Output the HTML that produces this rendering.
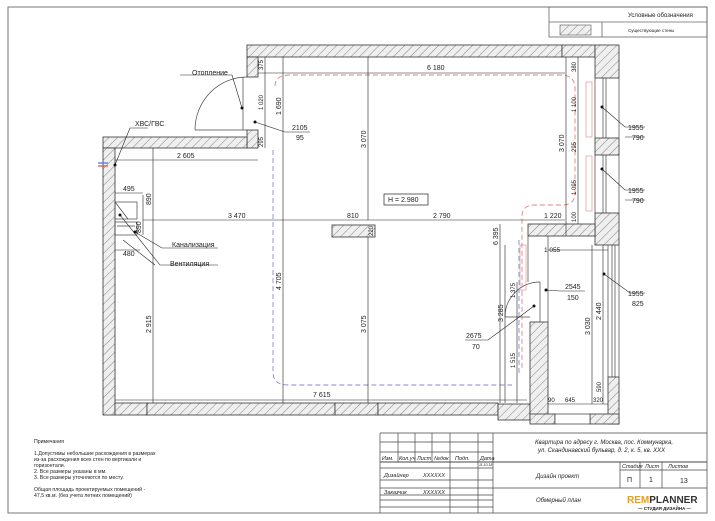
<!DOCTYPE html>
<html><head><meta charset="utf-8"><style>
html,body{margin:0;padding:0;background:#fff}
svg{display:block}
text{font-family:"Liberation Sans Narrow","Liberation Sans",sans-serif;fill:#222}
</style></head><body>
<svg width="715" height="521" viewBox="0 0 715 521" xmlns="http://www.w3.org/2000/svg">
<defs>
<pattern id="h" width="6" height="6" patternUnits="userSpaceOnUse" patternTransform="rotate(45)">
<rect width="6" height="6" fill="#efefef"/><line x1="0" y1="0" x2="0" y2="6" stroke="#777" stroke-width="0.9"/>
</pattern>
</defs>
<rect width="715" height="521" fill="#fff"/>
<rect x="8" y="7" width="699" height="506" fill="none" stroke="#777" stroke-width="1"/>
<g stroke="#666" stroke-width="0.8" fill="none">
<rect x="549" y="7" width="158" height="30"/>
<line x1="549" y1="22" x2="707" y2="22"/>
<line x1="602" y1="22" x2="602" y2="37"/>
</g>
<rect x="560" y="25" width="31" height="10" fill="url(#h)" stroke="#555" stroke-width="0.6"/>
<text x="628" y="17" font-size="6">Условные обозначения</text>
<text x="628" y="32" font-size="4.5">Существующие стены</text>

<g fill="url(#h)" stroke="#333" stroke-width="0.8">
<rect x="247" y="45" width="315" height="12"/>
<rect x="562" y="45" width="33" height="12"/>
<rect x="595" y="45" width="24" height="33"/>
<rect x="247" y="57" width="11" height="20"/>
<rect x="247" y="130" width="11" height="18"/>
<rect x="103" y="137" width="144" height="11"/>
<rect x="103" y="148" width="12" height="267"/>
<rect x="115" y="403" width="32" height="12"/>
<rect x="147" y="403" width="188" height="12"/>
<rect x="335" y="403" width="43" height="12"/>
<rect x="378" y="403" width="120" height="12"/>
<rect x="498" y="404" width="32" height="16"/>
<rect x="595" y="138" width="24" height="17"/>
<rect x="595" y="213" width="24" height="32"/>
<rect x="528" y="224" width="67" height="12"/>
<rect x="530" y="322" width="18" height="98"/>
<rect x="608" y="377" width="11" height="47"/>
<rect x="530" y="414" width="25" height="10"/>
<rect x="590" y="414" width="29" height="10"/>
<rect x="332" y="225" width="43" height="12"/>
</g>
<rect x="555" y="414" width="35" height="10" fill="#fff" stroke="#333" stroke-width="0.7"/>
<g stroke="#444" stroke-width="0.7" fill="none">
<line x1="595" y1="78" x2="595" y2="138"/><line x1="603" y1="78" x2="603" y2="138"/><line x1="606" y1="78" x2="606" y2="138"/><line x1="619" y1="78" x2="619" y2="138"/>
<line x1="595" y1="155" x2="595" y2="213"/><line x1="603" y1="155" x2="603" y2="213"/><line x1="606" y1="155" x2="606" y2="213"/><line x1="619" y1="155" x2="619" y2="213"/>
<line x1="608" y1="245" x2="608" y2="377"/><line x1="612" y1="245" x2="612" y2="377"/><line x1="615" y1="245" x2="615" y2="377"/><line x1="619" y1="245" x2="619" y2="377"/>
<line x1="548" y1="236" x2="548" y2="322"/><line x1="540" y1="282" x2="540" y2="322"/>
<line x1="528" y1="236" x2="528" y2="282"/>
<path d="M195,130 A52,53 0 0 1 247,77" />
<line x1="195" y1="130" x2="247" y2="130"/>
<line x1="243" y1="77" x2="243" y2="130"/>
<path d="M505,317 A35,35 0 0 1 540,282"/>
<line x1="505" y1="317" x2="530" y2="317"/>
<rect x="115" y="202" width="22" height="17"/>
<rect x="115" y="222" width="22" height="13"/>
<line x1="115" y1="202" x2="128" y2="219"/>
<line x1="117" y1="226" x2="135" y2="226"/>
</g>
<g fill="none" stroke-width="0.9" stroke-dasharray="5,3">
<path d="M275,86 Q275,75 290,75 L560,75 Q575,75 575,88 L575,193 Q575,205 562,205 L535,205 Q522,205 522,216 L522,370" stroke="#e08080"/>
<path d="M273,150 L273,372 Q273,385 288,385 L512,385" stroke="#8a8ad0"/>
<path d="M519,240 L519,375" stroke="#8a8ad0"/>
</g>
<g fill="none" stroke="#e08080" stroke-width="0.6">
<rect x="586" y="82" width="6" height="55"/><rect x="586" y="156" width="6" height="55"/><rect x="520" y="245" width="6" height="45"/>
</g>
<line x1="98" y1="163" x2="108" y2="163" stroke="#4a70d0" stroke-width="1.2"/>
<line x1="98" y1="166" x2="108" y2="166" stroke="#d05050" stroke-width="1.2"/>

<g stroke="#222" stroke-width="0.6" fill="none">
<line x1="258" y1="73" x2="565" y2="73"/>
<line x1="368" y1="57" x2="368" y2="220"/>
<line x1="115" y1="160" x2="258" y2="160"/>
<line x1="153" y1="148" x2="153" y2="403"/>
<line x1="115" y1="193" x2="143" y2="193"/>
<line x1="143" y1="220" x2="565" y2="220"/>
<line x1="143" y1="195" x2="143" y2="235"/>
<line x1="115" y1="250" x2="140" y2="250"/>
<line x1="283" y1="57" x2="283" y2="403"/>
<line x1="368" y1="237" x2="368" y2="403"/>
<line x1="115" y1="400" x2="527" y2="400"/>
<line x1="265" y1="57" x2="265" y2="148"/>
<line x1="566" y1="57" x2="566" y2="236"/>
<line x1="578" y1="57" x2="578" y2="224"/>
<line x1="500" y1="224" x2="500" y2="403"/>
<line x1="548" y1="250" x2="608" y2="250"/>
<line x1="592" y1="245" x2="592" y2="404"/>
<line x1="603" y1="245" x2="603" y2="404"/>
<line x1="548" y1="404" x2="608" y2="404"/>
<line x1="505" y1="245" x2="505" y2="403"/>
<line x1="517" y1="282" x2="517" y2="403"/>
<polyline points="242,108 232,75 180,75"/>
<polyline points="115,165 130,128 148,128"/>
<polyline points="255,122 285,132 310,132"/>
<polyline points="135,232 162,248 218,248"/>
<polyline points="120,215 160,265 218,265"/>
<polyline points="123,240 155,265"/>
<polyline points="602,107 625,127 645,127"/>
<polyline points="602,169 625,190 645,190"/>
<polyline points="546,290 560,291 585,291"/>
<polyline points="604,274 630,293 645,293"/>
<polyline points="534,306 488,340 465,340"/>
<line x1="625" y1="137" x2="645" y2="137" /><line x1="625" y1="200" x2="645" y2="200"/>
</g>
<g fill="#111">
<circle cx="242" cy="108" r="1.5"/><circle cx="255" cy="122" r="1.5"/><circle cx="115" cy="165" r="1.5"/>
<circle cx="135" cy="232" r="1.5"/><circle cx="120" cy="215" r="1.5"/><circle cx="602" cy="107" r="1.5"/>
<circle cx="602" cy="169" r="1.5"/><circle cx="546" cy="290" r="1.5"/><circle cx="604" cy="274" r="1.5"/><circle cx="534" cy="306" r="1.5"/>
</g>
<rect x="384" y="194" width="44" height="11" fill="#fff" stroke="#222" stroke-width="0.7"/>

<g font-size="7">
<text x="427" y="70">6 180</text>
<text x="177" y="158">2 605</text>
<text x="123" y="191">495</text>
<text x="228" y="218">3 470</text>
<text x="347" y="218">810</text>
<text x="433" y="218">2 790</text>
<text x="544" y="218">1 220</text>
<text x="123" y="256">480</text>
<text x="313" y="397">7 615</text>
<text x="544" y="252" font-size="6.5">1 055</text>
<text x="548" y="402" font-size="6">90</text>
<text x="565" y="402" font-size="6">645</text>
<text x="593" y="402" font-size="6">320</text>
<text x="388" y="202">H = 2.980</text>
<text x="192" y="75">Отопление</text>
<text x="135" y="126">ХВС/ГВС</text>
<text x="172" y="247">Канализация</text>
<text x="170" y="266">Вентиляция</text>
<text x="292" y="130">2105</text><text x="296" y="140">95</text>
<text x="628" y="130">1955</text><text x="632" y="140">790</text>
<text x="628" y="193">1955</text><text x="632" y="203">790</text>
<text x="565" y="289">2545</text><text x="567" y="300">150</text>
<text x="628" y="296">1955</text><text x="632" y="306">825</text>
<text x="466" y="338">2675</text><text x="472" y="349">70</text>
</g>
<g font-size="7">
<text transform="translate(366,148) rotate(-90)">3 070</text>
<text transform="translate(151,205) rotate(-90)">890</text>
<text transform="translate(141,233) rotate(-90)">890</text>
<text transform="translate(151,333) rotate(-90)">2 915</text>
<text transform="translate(281,290) rotate(-90)">4 705</text>
<text transform="translate(366,333) rotate(-90)">3 075</text>
<text transform="translate(281,115) rotate(-90)">1 690</text>
<text transform="translate(263,70) rotate(-90)" font-size="6">375</text>
<text transform="translate(263,110) rotate(-90)" font-size="6">1 020</text>
<text transform="translate(263,147) rotate(-90)" font-size="6">295</text>
<text transform="translate(564,152) rotate(-90)">3 070</text>
<text transform="translate(576,72) rotate(-90)" font-size="6">380</text>
<text transform="translate(576,112) rotate(-90)" font-size="6">1 100</text>
<text transform="translate(576,152) rotate(-90)" font-size="6">295</text>
<text transform="translate(576,195) rotate(-90)" font-size="6">1 095</text>
<text transform="translate(576,222) rotate(-90)" font-size="6">100</text>
<text transform="translate(498,245) rotate(-90)">6 395</text>
<text transform="translate(590,335) rotate(-90)">3 030</text>
<text transform="translate(601,320) rotate(-90)">2 440</text>
<text transform="translate(601,392) rotate(-90)" font-size="6">590</text>
<text transform="translate(503,322) rotate(-90)">3 285</text>
<text transform="translate(515,298) rotate(-90)" font-size="6">1 375</text>
<text transform="translate(515,368) rotate(-90)" font-size="6">1 515</text>
<text transform="translate(373,236) rotate(-90)" font-size="6">220</text>
</g>

<g font-size="5.2">
<text x="34" y="443">Примечания</text>
<text x="34" y="455">1.Допустимы небольшие расхождения в размерах</text>
<text x="34" y="461">из-за расхождения всех стен по вертикали и</text>
<text x="34" y="467">горизонтали.</text>
<text x="34" y="473">2. Все размеры указаны в мм.</text>
<text x="34" y="479">3. Все размеры уточняются по месту.</text>
<text x="34" y="491">Общая площадь проектируемых помещений -</text>
<text x="34" y="497">47,5 кв.м. (без учета летних помещений)</text>
</g>

<g stroke="#444" stroke-width="0.7" fill="none">
<line x1="380" y1="433" x2="707" y2="433"/>
<line x1="380" y1="433" x2="380" y2="513"/>
<line x1="398" y1="433" x2="398" y2="462"/>
<line x1="415" y1="433" x2="415" y2="462"/>
<line x1="432" y1="433" x2="432" y2="462"/>
<line x1="450" y1="433" x2="450" y2="513"/>
<line x1="478" y1="433" x2="478" y2="513"/>
<line x1="493" y1="433" x2="493" y2="513"/>
<line x1="380" y1="442" x2="493" y2="442"/>
<line x1="380" y1="452" x2="493" y2="452"/>
<line x1="380" y1="462" x2="707" y2="462" stroke-width="1"/>
<line x1="380" y1="468" x2="493" y2="468"/>
<line x1="380" y1="480" x2="493" y2="480"/>
<line x1="380" y1="488" x2="707" y2="488"/>
<line x1="380" y1="495" x2="493" y2="495"/>
<line x1="380" y1="500" x2="493" y2="500"/>
<line x1="380" y1="507" x2="493" y2="507"/>
<line x1="620" y1="462" x2="620" y2="488"/>
<line x1="640" y1="462" x2="640" y2="488"/>
<line x1="662" y1="462" x2="662" y2="488"/>
<line x1="620" y1="470" x2="707" y2="470"/>
</g>
<g font-size="5.5" font-style="italic">
<text x="382" y="460">Изм.</text><text x="399" y="460">Кол.уч</text><text x="417" y="460">Лист</text><text x="434" y="460">№док</text><text x="455" y="460">Подп.</text><text x="480" y="460">Дата</text>
<text x="479" y="466" font-size="3.5">11.10.18</text>
<text x="384" y="477">Дизайнер</text><text x="423" y="477">XXXXXX</text>
<text x="384" y="494">Заказчик</text><text x="423" y="494">XXXXXX</text>
<text x="535" y="444" font-size="6">Квартира по адресу г. Москва, пос. Коммунарка,</text>
<text x="538" y="452" font-size="6">ул. Скандинавский бульвар, д. 2, к. 5, кв. XXX</text>
<text x="536" y="478" font-size="6">Дизайн проект</text>
<text x="536" y="502" font-size="6">Обмерный план</text>
<text x="622" y="468">Стадия</text><text x="645" y="468">Лист</text><text x="668" y="468">Листов</text>
</g>
<text x="627" y="482" font-size="7">П</text>
<text x="649" y="482" font-size="7">1</text>
<text x="680" y="483" font-size="7">13</text>
<text x="627" y="503" font-size="10" font-weight="bold" style="font-family:'Liberation Sans',sans-serif"><tspan fill="#e8a020">REM</tspan><tspan fill="#333">PLANNER</tspan></text>
<text x="638" y="510" font-size="4.5" font-weight="bold">— СТУДИЯ ДИЗАЙНА —</text>
</svg>
</body></html>
